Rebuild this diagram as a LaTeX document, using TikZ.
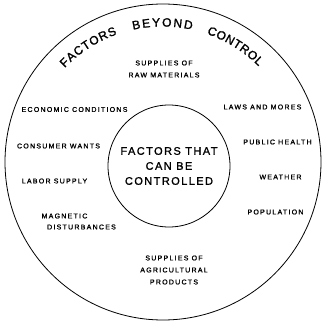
\documentclass[tikz,border=0pt]{standalone}
\usepackage{fontspec}
\setmainfont{Liberation Sans}
\newfontfamily\spaced[LetterSpace=18,FakeBold=1.2]{Liberation Sans}
\newfontfamily\spacedbig[LetterSpace=13,FakeBold=1.2]{Liberation Sans}
\newfontfamily\arcfont[FakeBold=1.5]{Liberation Sans}
\newcommand\titlefont{\arcfont\fontsize{12}{12}\selectfont}
\usetikzlibrary{decorations.text}

\begin{document}
\begin{tikzpicture}[x=1pt,y=1pt,
        ring/.style={draw=black,line width=0.8pt,circle,inner sep=0pt},
        factor/.style={font=\spaced\fontsize{7}{12}\selectfont,align=center,inner sep=0pt},
        heading/.style={decorate,decoration={text along path,text align=fit to path,
                        text={|\titlefont|#1}}}]
    \useasboundingbox (-162.5,-161.5) rectangle (161.5,162.5);
    % the two rings
    \node[ring,minimum size=316pt] (beyond) at (0.5,0.5) {};
    \node[ring,minimum size=122pt,font=\spacedbig\fontsize{11}{15}\selectfont,align=center]
        (controlled) at (6.5,-3.5) {FACTORS THAT\\CAN BE\\CONTROLLED};
    % heading round the top of the outer ring
    \path[heading=FACTORS] (136:136pt) arc[start angle=136,end angle=109.5,radius=136pt];
    \path[heading=BEYOND] (102.5:136pt) arc[start angle=102.5,end angle=77.5,radius=136pt];
    \path[heading=CONTROL] (71:136pt) arc[start angle=71,end angle=45,radius=136pt];
    % factors in the outer ring
    \node[factor] (rawmat) at (1.5,93.5) {SUPPLIES OF\\RAW MATERIALS};
    \node[factor] (economic) at (-88,53) {ECONOMIC CONDITIONS};
    \node[factor] (laws) at (100,55.5) {LAWS AND MORES};
    \node[factor] (consumer) at (-104,16.5) {CONSUMER WANTS};
    \node[factor] (health) at (115,20.5) {PUBLIC HEALTH};
    \node[factor] (labor) at (-108,-18.5) {LABOR SUPPLY};
    \node[factor] (weather) at (118,-14.5) {WEATHER};
    \node[factor] (magnetic) at (-98,-53.5) {MAGNETIC};
    \node[factor] (disturb) at (-81,-64.5) {DISTURBANCES};
    \node[factor] (population) at (113,-49.5) {POPULATION};
    \node[factor] (agri) at (11.5,-107.5) {SUPPLIES OF\\AGRICULTURAL\\PRODUCTS};
\end{tikzpicture}
\end{document}
